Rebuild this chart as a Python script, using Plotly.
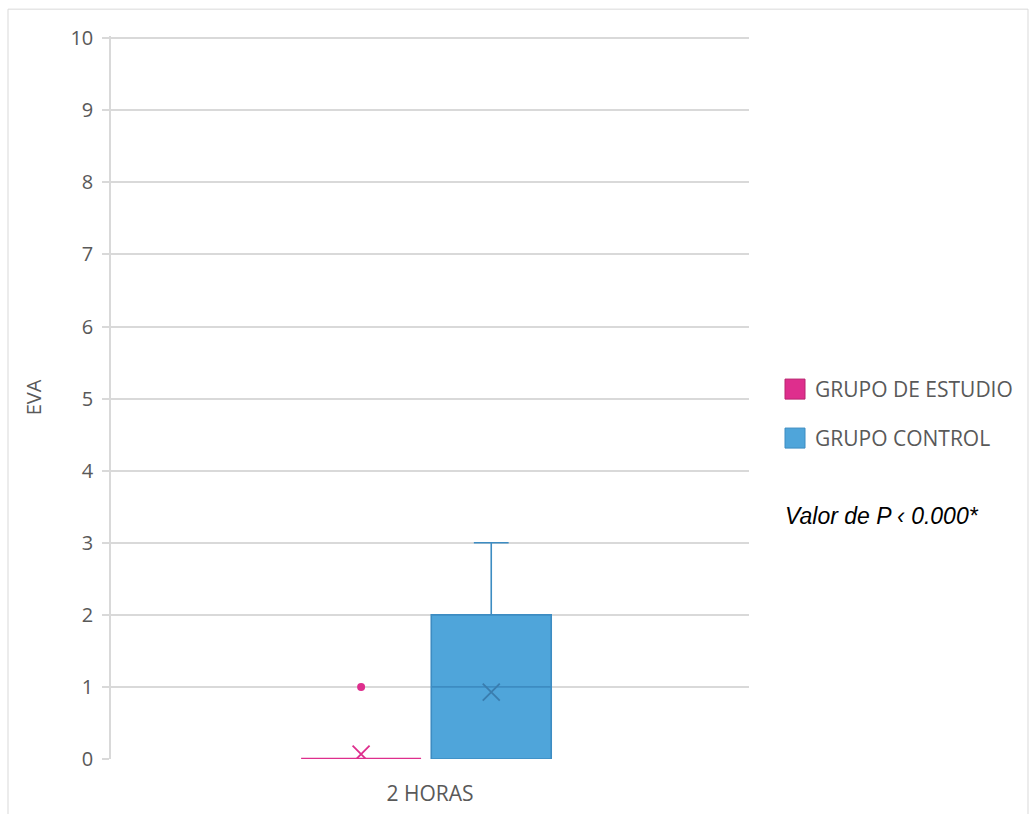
import numpy as np
import plotly.graph_objects as go

# ---- data ----
category = "2 HORAS"
series_names = ["GRUPO DE ESTUDIO", "GRUPO CONTROL"]
estudio_values = [0] * 14 + [1]
control_values = [0] * 6 + [1] * 4 + [2] * 3 + [3]
y_ticks = list(range(0, 11))
p_text = "Valor de P ‹ 0.000*"

# ---- style ----
pink = "#DE2E8D"
blue_fill = "#4FA5DA"
blue_line = "#3D8CC2"
blue_dark = "#3A7DAE"
grid = "#D9D9D9"
txt = "#595959"

W, H = 1029, 814
L, R, B = 111, 749, 759
Y_MAX = 10.03
T = B - (B - 38) / 10 * Y_MAX  # keeps value 10 at pixel 38


def px(xp):
    return (xp - L) / (R - L)


def py(yp):
    return (B - yp) / (B - T)


offsets = [-0.108, 0.096]
box_w = 0.188

fig = go.Figure()
groups = [(estudio_values, pink, pink, pink, 2.6), (control_values, blue_fill, blue_line, blue_dark, 1.6)]
for name, off, (vals, fill, line, meanc, lw) in zip(series_names, offsets, groups):
    fig.add_trace(go.Box(
        x=[off] * len(vals), y=vals, name=name,
        width=box_w, fillcolor=fill, line=dict(color=line, width=lw),
        boxpoints="outliers", quartilemethod="exclusive", whiskerwidth=0.29,
        marker=dict(color=pink, size=8), showlegend=False, hoverinfo="y",
    ))
    fig.add_trace(go.Scatter(
        x=[off], y=[float(np.mean(vals))], mode="markers", showlegend=False,
        marker=dict(symbol="x-thin-open", size=17, color=meanc, line=dict(color=meanc, width=1.8)),
    ))

shapes = [
    dict(type="rect", xref="paper", yref="paper", x0=px(8), x1=px(1028), y0=py(9), y1=py(830),
         line=dict(color=grid, width=1), fillcolor="rgba(0,0,0,0)", layer="below"),
]
annotations = []
leg_y = [389, 438]
for name, fill, line, yc in zip(series_names, [pink, blue_fill], ["#B8246F", blue_line], leg_y):
    shapes.append(dict(type="rect", xref="paper", yref="paper", x0=px(785), x1=px(805),
                       y0=py(yc + 10), y1=py(yc - 10), fillcolor=fill, line=dict(color=line, width=1)))
    annotations.append(dict(x=px(813), y=py(yc), xref="paper", yref="paper", text=name,
                            showarrow=False, xanchor="left", yanchor="middle",
                            font=dict(family="Open Sans", size=21, color=txt)))
annotations.append(dict(x=px(783), y=py(516), xref="paper", yref="paper", text="<i>" + p_text + "</i>",
                        showarrow=False, xanchor="left", yanchor="middle",
                        font=dict(family="Liberation Sans, Arial", size=23, color="#000000")))

fig.update_layout(
    width=W, height=H, margin=dict(l=L, r=W - R, t=T, b=H - B, autoexpand=False),
    paper_bgcolor="white", plot_bgcolor="white",
    font=dict(family="Open Sans", color=txt),
    shapes=shapes, annotations=annotations, showlegend=False,
    xaxis=dict(range=[-0.5, 0.5], tickvals=[0], ticktext=[category], showgrid=False,
               zeroline=False, showline=False, ticks="", tickfont=dict(size=21, color=txt),
               ticklabelstandoff=20, fixedrange=True),
    yaxis=dict(range=[0, Y_MAX], tickvals=y_ticks, showgrid=True, gridcolor=grid, gridwidth=1.5,
               zeroline=False, showline=True, linecolor=grid, linewidth=1.5,
               ticks="outside", ticklen=7, tickcolor=grid, tickwidth=1.5,
               tickfont=dict(size=20, color=txt), ticklabelstandoff=5,
               title=dict(text="EVA", font=dict(size=20, color=txt), standoff=23)),
)

fig.write_html("out.html")
